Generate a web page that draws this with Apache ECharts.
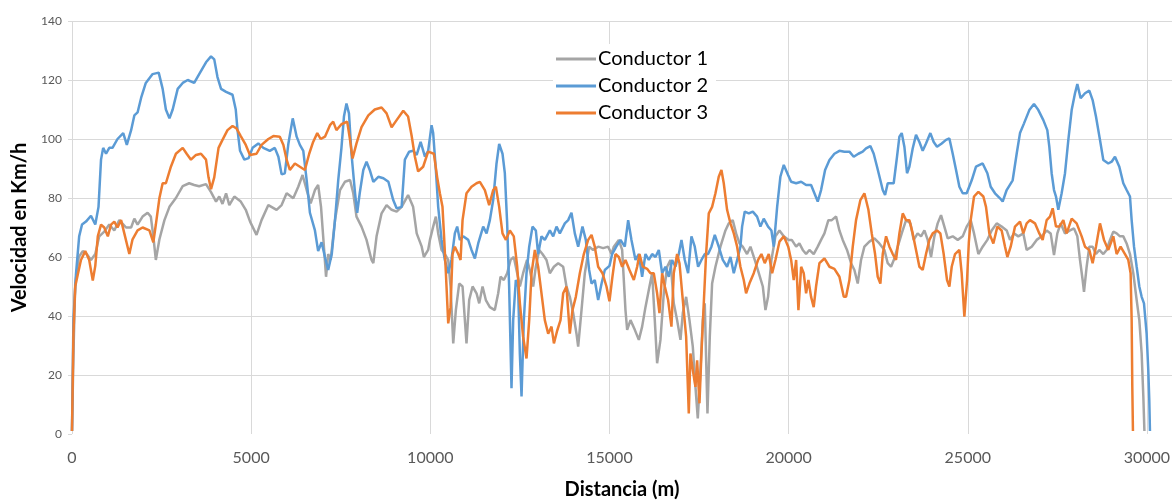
<!DOCTYPE html>
<html>
<head>
<meta charset="utf-8">
<script src="https://cdn.jsdelivr.net/npm/echarts@6/dist/echarts.min.js"></script>
<style>
html,body{margin:0;padding:0;background:#fff;}
#chart{width:1173px;height:500px;}
</style>
</head>
<body>
<div id="chart"></div>
<script>
// Conductor 1 (gray)
const d1 = [0,40,90,190,300,410,530,650,760,900,1040,1180,1320,1510,1650,1740,1830,1970,2110,2200,2270,2340,2440,2580,2720,2900,3090,3270,3410,3550,3740,3880,4020,4110,4200,4300,4390,4530,4710,4850,4970,5150,5290,5480,5710,5850,5990,6175,6315,6435,6550,6660,6780,6870,6950,7010,7090,7150,7220,7340,7480,7616,7760,7850,7940,8080,8220,8360,8410,8500,8640,8780,8920,9060,9200,9380,9520,9620,9760,9820,9940,9990,10080,10155,10220,10314,10406,10500,10565,10640,10713,10806,10900,10965,11010,11085,11180,11290,11365,11458,11550,11662,11800,11895,11960,12052,12145,12240,12330,12425,12500,12590,12700,12778,12870,12945,13038,13130,13243,13336,13450,13570,13708,13800,13894,13987,14080,14127,14220,14313,14433,14545,14685,14825,14964,15057,15122,15261,15354,15447,15494,15587,15708,15820,15912,16005,16117,16191,16265,16330,16423,16516,16610,16702,16795,16888,16982,17047,17140,17233,17326,17400,17465,17540,17605,17660,17735,17800,17865,17958,18097,18237,18330,18440,18535,18628,18720,18840,18935,19055,19168,19280,19354,19427,19520,19632,19744,19865,20000,20088,20210,20300,20395,20488,20580,20700,20813,20906,21000,21110,21204,21325,21418,21510,21630,21743,21836,21929,22022,22115,22254,22394,22533,22673,22766,22859,22952,23045,23157,23278,23398,23491,23600,23696,23790,23882,23975,24068,24160,24254,24347,24440,24580,24720,24859,24970,25082,25175,25296,25416,25547,25667,25807,25946,26086,26179,26290,26411,26551,26644,26784,26923,27062,27202,27314,27407,27500,27592,27714,27853,27965,28058,28132,28206,28244,28318,28392,28485,28578,28671,28783,28876,28970,29062,29155,29248,29341,29434,29527,29620,29714,29788,29853,29900,29930];
const v1 = [1,27,51,60,62,61,59,61,67,68.6,71,69,72.5,70,70,73,71,73.7,75,73.7,67,59,66,72.5,77,80,84,85,84.4,84,84.7,82,78.8,80.5,78,81.6,77.6,80.5,78.8,76,72,67.5,72.5,77.6,76,77.6,81.6,79.9,83.8,87.8,82.7,78.2,82.7,84.4,77,67,53.3,61,59,72.5,82.7,85.5,86.1,81.6,73.7,70.3,65.8,59,57.9,67,74.8,77.6,76,75.4,77,81,77,68,63.5,60,62.4,65.8,70.3,73.7,68,62.4,61,59,50,30.7,42,51,50,38.6,30.7,45.4,50,47.7,44.3,50,45.4,43,42,47.7,53.3,52.2,54.5,59,60,54.5,50,54.5,59,55.6,50,56.7,62.4,61,59,54.5,56.7,57.9,56.7,50,46.5,41,34,29.6,42,54.5,63.5,62.4,63.5,63,63.5,61,63.5,65.8,62.4,42,35.3,38.6,35.3,31.9,36.4,43,50,54.5,38.6,24,31.9,47.7,56.7,59,44.3,38.6,31.9,41,46.5,38.6,29.6,16,5.3,21.7,38.6,44.3,7,33,51,56.7,63.5,69,71.4,72.5,68,64.6,63.5,61,63.5,59,54.5,50,42,46.5,59,67,69,67,65.8,65.8,63.5,64.6,62.4,61,62.4,61,63.5,65.8,68,72.5,72.5,73.7,69,65.8,62.4,57.9,55.6,51,59,63.5,65.2,66.3,64.6,62.4,57.9,56.7,59.5,63.5,68,72.5,71.4,65.8,68,67,69,65.8,60,67,71.4,74.2,70.3,66.3,67,65.8,67,70.3,72.5,68,61,63.5,65.8,69,71.4,70.3,69,65.8,68,67,68,62.4,63.5,65.8,67,69,68,60.7,68,71.4,68,69,69.7,67,59,52.2,48.2,56.7,63.5,63.5,61,62.4,61,62.4,65.8,68.6,68,67,67,64.6,61,54.5,45.4,38.6,27.3,12.7,1];

// Conductor 2 (blue)
const d2 = [0,40,110,200,280,390,530,650,740,810,870,950,1040,1130,1270,1430,1530,1650,1740,1830,1930,2060,2250,2420,2530,2620,2720,2810,2950,3090,3230,3410,3550,3740,3880,3970,4060,4160,4300,4480,4570,4620,4690,4810,4930,5040,5200,5340,5520,5660,5760,5850,5940,6040,6160,6270,6360,6455,6550,6640,6780,6870,6966,7060,7150,7250,7340,7430,7520,7590,7660,7730,7800,7900,7960,8030,8130,8220,8310,8410,8550,8690,8830,8965,9060,9200,9290,9410,9520,9620,9730,9850,9940,10035,10080,10155,10220,10314,10406,10500,10590,10685,10750,10825,10918,11058,11150,11244,11337,11476,11570,11662,11755,11848,11922,12015,12080,12145,12200,12266,12313,12387,12450,12500,12546,12610,12685,12760,12852,12945,13010,13103,13196,13336,13430,13522,13615,13755,13848,13940,14033,14127,14247,14340,14433,14500,14590,14685,14780,14870,15000,15075,15190,15308,15428,15522,15614,15726,15820,15912,16005,16098,16191,16284,16377,16470,16563,16656,16749,16842,16935,17010,17102,17195,17288,17381,17474,17567,17660,17753,17846,17940,18050,18163,18283,18377,18470,18563,18655,18702,18776,18888,19000,19120,19213,19306,19427,19520,19585,19680,19770,19865,19985,20070,20210,20350,20488,20627,20720,20813,20906,21018,21140,21278,21418,21557,21697,21817,21948,22068,22161,22282,22375,22468,22561,22627,22692,22766,22840,22933,23026,23092,23157,23231,23305,23370,23463,23556,23650,23742,23835,23956,24049,24142,24273,24393,24487,24580,24673,24766,24859,24970,25110,25230,25416,25547,25640,25760,25900,25974,26086,26253,26365,26458,26570,26718,26848,26970,27109,27220,27276,27341,27407,27462,27527,27620,27714,27807,27900,27993,28058,28150,28272,28392,28485,28578,28690,28783,28923,29016,29109,29230,29341,29434,29527,29574,29640,29714,29788,29853,29918,29992,30038,30066,30085];
const v2 = [1,39,54,67,71,72,74,71,77,93,97,95,97,97,100,102,98,103,108,109,114,119,122,122.5,117,110,107,110,117,119,120,119,122,126,128,127,121,117,116,115,110,103,96,93,93.5,97,98.5,97,96,97,94,88,88.4,98.5,107,100.8,98,96,86,75,69,62,65,60,55.6,61,72.5,86,97,107.6,112,108.7,95,81.6,75,81.6,89.5,92.3,89.5,85.5,87.2,86.7,85.5,79.3,76.5,77,93,95.7,96,94.6,99,94,96,104.7,102,89.5,77,65.8,59,54.5,59,68,70.3,65.8,67,65.8,62.4,59.5,64.6,70.3,68,72.5,79.3,91.7,98.3,95,88.4,71.4,50,15.5,38.6,52.2,50,27,12.7,38.6,54.5,63.5,70.3,69,61,67,65.8,69,67,70.3,68,71.4,72.5,75,68,63.5,70.3,65.8,55.6,51,52.2,45.4,51,55.6,57,61,63.5,65.8,63.5,72.5,65.8,59,61,53.3,61,59,61,60,62.4,54.5,56.7,53.3,59,56.7,61,65.8,59,54.5,67,63.5,56.7,59,61,61,63.5,67.5,63.5,59,56.7,60,54.5,59,63.5,70.3,75.4,74.8,75.4,73.7,70.3,73,70.3,69,63.5,77,87.2,91.2,87.8,85.5,85,85.5,84.4,84.4,81.6,78.8,82.7,89.5,92.9,95,96,95.7,95.7,94,95,95.7,96.8,97.6,95,90.6,86,82.7,81,85,85,85,94,100.8,102,97.4,88.4,90.6,96.8,101.4,99,96,98.5,102,99,97.4,98.5,99.7,100.2,95,89.5,83.8,81.6,81.6,86,90.6,91.7,88.4,83.8,81.6,79.9,78.8,82.7,86,95,102,105.3,109.8,111.9,109.8,106.4,103,97.4,88.4,82.7,80.5,76,81.6,88.4,99.7,109.8,115.5,118.6,113.8,115.5,116.4,113.2,107.6,99.7,92.9,91.7,92.3,94,90.6,85,82.7,80.5,72.5,63.5,56.7,50,46.5,44.3,34,21.7,11.5,1];

// Conductor 3 (orange)
const d3 = [0,40,90,160,250,370,480,580,650,720,810,900,1000,1090,1180,1270,1370,1460,1600,1690,1830,1970,2160,2270,2340,2440,2530,2620,2760,2900,3090,3200,3320,3460,3600,3740,3810,3880,3970,4090,4200,4340,4480,4590,4710,4850,4966,5150,5290,5480,5620,5800,5900,5990,6080,6220,6360,6500,6620,6730,6845,6940,7060,7200,7290,7380,7520,7680,7760,7830,7940,8080,8270,8450,8640,8780,8920,9060,9245,9380,9480,9570,9660,9800,9940,10100,10192,10267,10340,10380,10435,10500,10565,10620,10685,10780,10844,10900,11010,11150,11290,11383,11522,11643,11755,11830,11922,12015,12110,12220,12330,12425,12500,12590,12685,12760,12825,12918,13010,13103,13196,13290,13383,13450,13540,13634,13708,13800,13894,13968,14061,14173,14285,14406,14500,14590,14685,14805,14917,15000,15080,15168,15261,15354,15447,15559,15680,15773,15838,15930,16050,16145,16237,16330,16396,16470,16545,16637,16730,16795,16888,16954,17047,17140,17214,17260,17326,17400,17447,17512,17567,17632,17697,17772,17865,17958,18050,18125,18190,18283,18377,18470,18563,18655,18748,18813,18906,19027,19148,19241,19334,19446,19540,19632,19744,19865,19990,20070,20143,20210,20274,20350,20422,20488,20553,20627,20700,20766,20860,21000,21140,21278,21418,21540,21604,21697,21790,21882,22003,22115,22227,22320,22413,22487,22561,22627,22720,22813,22906,22998,23092,23185,23278,23370,23463,23556,23650,23742,23835,23929,24022,24142,24235,24328,24421,24487,24552,24645,24766,24830,24905,24980,25030,25082,25175,25296,25435,25509,25602,25714,25826,25946,26040,26105,26198,26318,26458,26551,26644,26737,26876,26997,27090,27202,27295,27370,27462,27555,27667,27760,27900,28039,28179,28272,28392,28485,28578,28690,28802,28923,29062,29155,29266,29388,29480,29545,29574,29592,29610];
const v3 = [1,34,50,54,59,62,59,52,57,67,71,70,67,71,72,70,72.5,68,61,66,69,70,69,65,71,80,85,85,90.6,95,97,95,93,94.6,95,93,87,83,87,97,99.7,103,104.4,103.6,101,98,94.6,95,98,100,101,100.8,98,93,89.5,91.7,90.6,89.5,95,99,102,100,100.8,104.7,105.9,103,105,105.9,99.7,93.4,98.5,104,108,110,110.7,108.7,104,106.4,109.6,107.6,101,94,89,90.6,95.7,95,87,81.6,77,68,54.5,37.5,43,61,63.5,61,59,72.5,81.6,83.8,85,85.5,82.7,77.6,82.7,83.8,77,68,65.8,69,67,56.7,44.3,33,25.6,38.6,54.5,62.4,56.7,47.7,38.6,34,36.4,30.7,35,38.6,47.7,50,34,42,46.5,54.5,61,65.8,67.5,63.5,56.7,54.5,50,45,53,61,60,56.7,59,55.6,52.2,56.7,61,56.7,56,54.5,54.5,47.7,41,54.5,50,45.4,36.4,54.5,61,57.9,45.4,33,7,27.3,21.7,16,25,10.4,27.3,44.3,61,74.8,77,81.6,87.2,89.5,85,76,71.4,68,63.5,56.7,52.2,47.7,51,54.5,59,61,57.9,61,54.5,59,65.2,67,63.5,59,52.2,59,42,56.7,54.5,47.7,52.2,46.5,43,50,57.9,59.5,56.7,56,53.3,46.5,46.5,52.2,63.5,72.5,79.3,81.6,76,68,61,53.3,51,61,67,63.5,61,59,68,74.8,72.5,72.5,68,62.4,56.7,55.6,61,65.8,68,69,68,61,52.2,50,56.7,61,62.4,54.5,39.8,52.2,65,72.5,80.5,82.1,80.5,77,68,64.6,70.3,69,63.5,60,63.5,70.3,72,68,71.4,72.5,71.4,68,65.8,72.5,73.7,76.5,70.3,70.3,72.5,68,73,71.4,67,63.5,62.4,57.9,63.5,71.4,65.8,62.4,67,61,63.5,61,59,54.5,38.6,16,1];

const names = ['Conductor 1', 'Conductor 2', 'Conductor 3'];
const colors = ['#A5A5A5', '#5B9BD5', '#ED7D31'];
const xTicks = [0, 5000, 10000, 15000, 20000, 25000, 30000];
const yTicks = [0, 20, 40, 60, 80, 100, 120, 140];

const pairs = (d, v) => d.map((x, i) => [x, v[i]]);
const seriesData = [pairs(d1, v1), pairs(d2, v2), pairs(d3, v3)];

const chart = echarts.init(document.getElementById('chart'), null, {renderer: 'canvas'});
const FONT = 'Lato, "Open Sans", sans-serif';
const grid = '#d9d9d9';
const xMax = 30700;

chart.setOption({
  animation: false,
  backgroundColor: '#ffffff',
  textStyle: {fontFamily: FONT},
  grid: {left: 72, right: 1, top: 21, bottom: 66, containLabel: false, outerBoundsMode: 'none'},
  legend: {
    orient: 'vertical',
    left: 553, top: 44,
    padding: [5, 8, 5, 3],
    backgroundColor: '#ffffff',
    icon: 'rect',
    itemWidth: 40, itemHeight: 3, itemGap: 7,
    textStyle: {fontFamily: FONT, fontSize: 20, lineHeight: 20, height: 20, color: '#000000', padding: [0, 0, 0, -3]},
    data: names
  },
  xAxis: {
    type: 'value',
    min: xTicks[0], max: xMax, interval: xTicks[1] - xTicks[0],
    name: 'Distancia (m)', nameLocation: 'middle', nameGap: 46,
    nameTextStyle: {fontFamily: FONT, fontSize: 20, fontWeight: 'bold', color: '#000000'},
    axisLine: {show: false}, axisTick: {show: false},
    axisLabel: {color: '#595959', fontSize: 16, margin: 16, showMaxLabel: false, fontFamily: FONT,
      formatter: (v) => String(v)},
    splitLine: {show: true, lineStyle: {color: xTicks.map(() => grid).concat(['rgba(0,0,0,0)']), width: 1}}
  },
  yAxis: {
    type: 'value',
    min: yTicks[0], max: yTicks[yTicks.length - 1], interval: yTicks[1] - yTicks[0],
    name: 'Velocidad en Km/h', nameLocation: 'middle', nameGap: 42, nameRotate: 90,
    nameTextStyle: {fontFamily: FONT, fontSize: 20, fontWeight: 'bold', color: '#000000'},
    axisLine: {show: false},
    axisTick: {show: true, length: 4, lineStyle: {color: grid}},
    axisLabel: {color: '#595959', fontSize: 12, margin: 10, fontFamily: FONT},
    splitLine: {show: true, lineStyle: {color: yTicks.map((t, i) => i === 0 ? 'rgba(0,0,0,0)' : grid), width: 1}}
  },
  series: names.map((n, i) => ({
    name: n,
    type: 'line',
    data: seriesData[i],
    symbol: 'none',
    showSymbol: false,
    smooth: false,
    lineStyle: {color: colors[i], width: 2.5},
    itemStyle: {color: colors[i]},
    z: 2 + i
  }))
});
</script>
</body>
</html>
